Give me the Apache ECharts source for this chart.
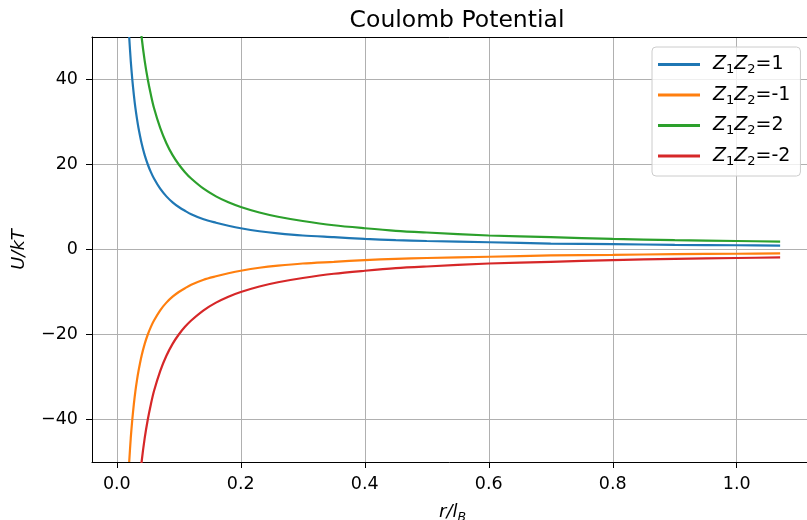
<!DOCTYPE html>
<html>
<head>
<meta charset="utf-8">
<script src="https://cdn.jsdelivr.net/npm/echarts@6/dist/echarts.min.js"></script>
<style>
  html, body { margin: 0; padding: 0; background: #fff; }
  #chart { width: 807px; height: 520px; }
</style>
</head>
<body>
<div id="chart"></div>
<script>
// r / l_B sample points
var rValues = [0.02, 0.0225, 0.025, 0.0275, 0.03, 0.0325, 0.035, 0.04, 0.045, 0.05, 0.055, 0.06, 0.07, 0.08, 0.09,
    0.10, 0.11, 0.12, 0.14, 0.16, 0.18, 0.20, 0.23, 0.26, 0.30, 0.35, 0.40, 0.45, 0.50, 0.60, 0.70, 0.80, 0.90, 1.00, 1.07];

// U/kT for each Z1Z2
var uPlus1 = [50, 44.4, 40, 36.4, 33.3, 30.8, 28.6, 25, 22.2, 20, 18.2, 16.7, 14.3, 12.5, 11.1,
    10, 9.1, 8.3, 7.1, 6.3, 5.6, 5, 4.3, 3.8, 3.3, 2.9, 2.5, 2.2, 2, 1.7, 1.4, 1.25, 1.1, 1, 0.93];
var uMinus1 = [-50, -44.4, -40, -36.4, -33.3, -30.8, -28.6, -25, -22.2, -20, -18.2, -16.7, -14.3, -12.5, -11.1,
    -10, -9.1, -8.3, -7.1, -6.3, -5.6, -5, -4.3, -3.8, -3.3, -2.9, -2.5, -2.2, -2, -1.7, -1.4, -1.25, -1.1, -1, -0.93];
var uPlus2 = [100, 88.9, 80, 72.7, 66.7, 61.5, 57.1, 50, 44.4, 40, 36.4, 33.3, 28.6, 25, 22.2,
    20, 18.2, 16.7, 14.3, 12.5, 11.1, 10, 8.7, 7.7, 6.7, 5.7, 5, 4.4, 4, 3.3, 2.9, 2.5, 2.2, 2, 1.87];
var uMinus2 = [-100, -88.9, -80, -72.7, -66.7, -61.5, -57.1, -50, -44.4, -40, -36.4, -33.3, -28.6, -25, -22.2,
    -20, -18.2, -16.7, -14.3, -12.5, -11.1, -10, -8.7, -7.7, -6.7, -5.7, -5, -4.4, -4, -3.3, -2.9, -2.5, -2.2, -2, -1.87];

var seriesNames = ['Z1Z2=1', 'Z1Z2=-1', 'Z1Z2=2', 'Z1Z2=-2'];
var seriesValues = [uPlus1, uMinus1, uPlus2, uMinus2];
var colors = ['#1f77b4', '#ff7f0e', '#2ca02c', '#d62728'];

var xTicks = [0.0, 0.2, 0.4, 0.6, 0.8, 1.0];
var yTicks = [-40, -20, 0, 20, 40];

var font = 'DejaVu Sans';

function pairs(xs, ys) {
    return xs.map(function (x, i) { return [x, ys[i]]; });
}

var chart = echarts.init(document.getElementById('chart'));

chart.setOption({
    animation: false,
    textStyle: { fontFamily: font },
    title: {
        text: 'Coulomb Potential',
        left: 452,
        top: 4,
        textAlign: 'center',
        textStyle: { fontFamily: font, fontSize: 23.5, fontWeight: 'normal', color: '#000' }
    },
    grid: {
        left: 92,
        top: 37,
        width: 721,
        height: 425,
        outerBoundsMode: 'none',
        containLabel: false,
        show: false
    },
    legend: {
        data: seriesNames.map(function (n, i) {
            return { name: n, icon: 'rect', itemStyle: { color: colors[i] } };
        }),
        orient: 'vertical',
        left: 652,
        top: 47,
        itemWidth: 42,
        itemHeight: 3,
        itemGap: 9,
        padding: [8, 10, 8, 6],
        backgroundColor: 'rgba(255,255,255,0.8)',
        borderColor: '#cccccc',
        borderWidth: 1,
        borderRadius: 4,
        formatter: function (name) {
            var v = name.split('=')[1];
            return '{i|Z}{s|1}{i|Z}{s|2}{n|=' + v + '}';
        },
        textStyle: {
            fontFamily: font,
            fontSize: 19,
            color: '#000',
            rich: {
                i: { fontFamily: font, fontSize: 19, fontStyle: 'italic', color: '#000' },
                s: { fontFamily: font, fontSize: 13, color: '#000', padding: [11, 0, 0, 0] },
                n: { fontFamily: font, fontSize: 19, color: '#000' }
            },
            padding: [0, 0, 0, 8]
        }
    },
    xAxis: [{
        type: 'value',
        min: -0.04,
        max: 1.123,
        name: '{i|r}{n|/}{i|l}{s|B}',
        nameLocation: 'middle',
        nameGap: 39,
        nameTextStyle: {
            rich: {
                i: { fontFamily: font, fontSize: 18, fontStyle: 'italic', color: '#000' },
                n: { fontFamily: font, fontSize: 18, fontStyle: 'italic', color: '#000' },
                s: { fontFamily: font, fontSize: 12.5, fontStyle: 'italic', color: '#000', padding: [10, 0, 0, 0] }
            }
        },
        axisLine: { show: true, onZero: false, lineStyle: { color: '#000', width: 1 } },
        axisTick: { show: true, inside: false, length: 6, customValues: xTicks, lineStyle: { color: '#000' } },
        axisLabel: {
            customValues: xTicks,
            margin: 13,
            fontSize: 17.5,
            color: '#000',
            fontFamily: font,
            formatter: function (v) { return v.toFixed(1); }
        },
        splitLine: { show: true, lineStyle: { color: '#b0b0b0', width: 1 } }
    }, {
        // top spine
        type: 'value',
        position: 'top',
        min: -0.04,
        max: 1.123,
        axisLine: { show: true, onZero: false, lineStyle: { color: '#000', width: 1 } },
        axisTick: { show: false },
        axisLabel: { show: false },
        splitLine: { show: false }
    }],
    yAxis: {
        type: 'value',
        min: -50,
        max: 50,
        name: 'U/kT',
        nameLocation: 'middle',
        nameGap: 64,
        nameRotate: 90,
        nameTextStyle: { fontFamily: font, fontSize: 18, fontStyle: 'italic', color: '#000' },
        axisLine: { show: true, onZero: false, lineStyle: { color: '#000', width: 1 } },
        axisTick: { show: true, inside: false, length: 6, customValues: yTicks, lineStyle: { color: '#000' } },
        axisLabel: {
            customValues: yTicks,
            margin: 14,
            fontSize: 17.5,
            color: '#000',
            fontFamily: font,
            formatter: function (v) { return v < 0 ? '\u2212' + Math.abs(v) : String(v); }
        },
        splitLine: { show: true, lineStyle: { color: '#b0b0b0', width: 1 } }
    },
    series: seriesNames.map(function (n, i) {
        return {
            name: n,
            type: 'line',
            data: pairs(rValues, seriesValues[i]),
            showSymbol: false,
            clip: true,
            smooth: 0.3,
            lineStyle: { color: colors[i], width: 2.2 },
            itemStyle: { color: colors[i] },
            z: 3
        };
    })
});
</script>
</body>
</html>
